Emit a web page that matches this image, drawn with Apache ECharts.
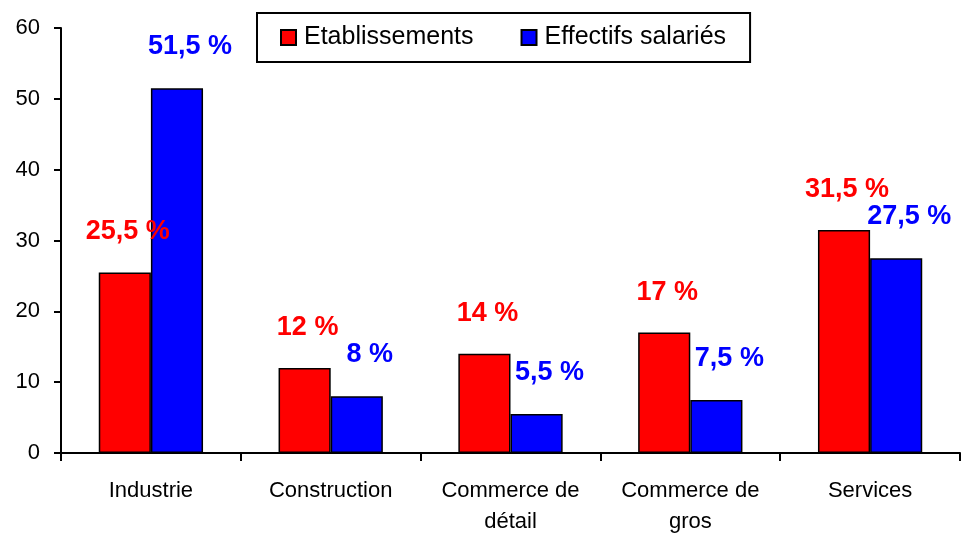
<!DOCTYPE html>
<html>
<head>
<meta charset="utf-8">
<script src="https://cdn.jsdelivr.net/npm/echarts@6/dist/echarts.min.js"></script>
<style>
  html, body { margin: 0; padding: 0; background: #fff; }
  #chart { width: 965px; height: 537px; }
</style>
</head>
<body>
<div id="chart"></div>
<script>
// categories and values
var categories = ['Industrie', 'Construction', 'Commerce de\ndétail', 'Commerce de\ngros', 'Services'];
var etablissements = [25.5, 12, 14, 17, 31.5];
var effectifs = [51.5, 8, 5.5, 7.5, 27.5];
var yTicks = [0, 10, 20, 30, 40, 50, 60];

var FONT = 'Liberation Sans, Arial, sans-serif';

function pct(p) {
    return String(p.value).replace('.', ',') + ' %';
}

var chart = echarts.init(document.getElementById('chart'));
chart.setOption({
    animation: false,
    textStyle: { fontFamily: FONT },
    grid: { left: 61, right: 5, top: 28, bottom: 83, containLabel: false },
    legend: {
        left: 257,
        top: 13,
        padding: [12, 24, 12, 23],
        borderColor: '#000',
        borderWidth: 2,
        itemWidth: 15,
        itemHeight: 15,
        itemGap: 47,
        icon: 'rect',
        textStyle: { fontSize: 25, color: '#000', fontFamily: FONT, padding: [4, 0, 0, 3] },
        data: ['Etablissements', 'Effectifs salariés']
    },
    xAxis: {
        type: 'category',
        data: categories,
        axisLine: { lineStyle: { color: '#000', width: 2 } },
        axisTick: { show: true, length: 8, inside: false, lineStyle: { color: '#000', width: 2 } },
        axisLabel: { color: '#000', fontSize: 22, margin: 22, lineHeight: 31, interval: 0 }
    },
    yAxis: {
        type: 'value',
        min: yTicks[0],
        max: yTicks[yTicks.length - 1],
        interval: 10,
        splitLine: { show: false },
        axisLine: { show: true, lineStyle: { color: '#000', width: 2 } },
        axisTick: { show: true, length: 7, lineStyle: { color: '#000', width: 2 } },
        axisLabel: { color: '#000', fontSize: 22, margin: 21 }
    },
    series: [
        {
            name: 'Etablissements',
            type: 'bar',
            data: etablissements,
            barGap: '0%',
            barCategoryGap: '42%',
            itemStyle: { color: '#ff0000', borderColor: '#000', borderWidth: 1.5 },
            label: {
                show: true,
                position: 'top',
                distance: 27,
                offset: [3, 0],
                color: '#ff0000',
                fontWeight: 'bold',
                fontSize: 27,
                formatter: pct
            }
        },
        {
            name: 'Effectifs salariés',
            type: 'bar',
            data: effectifs,
            barGap: '0%',
            barCategoryGap: '42%',
            itemStyle: { color: '#0000ff', borderColor: '#000', borderWidth: 1.5 },
            label: {
                show: true,
                position: 'top',
                distance: 28,
                offset: [13, 0],
                color: '#0000ff',
                fontWeight: 'bold',
                fontSize: 27,
                formatter: pct
            }
        }
    ]
});
</script>
</body>
</html>
